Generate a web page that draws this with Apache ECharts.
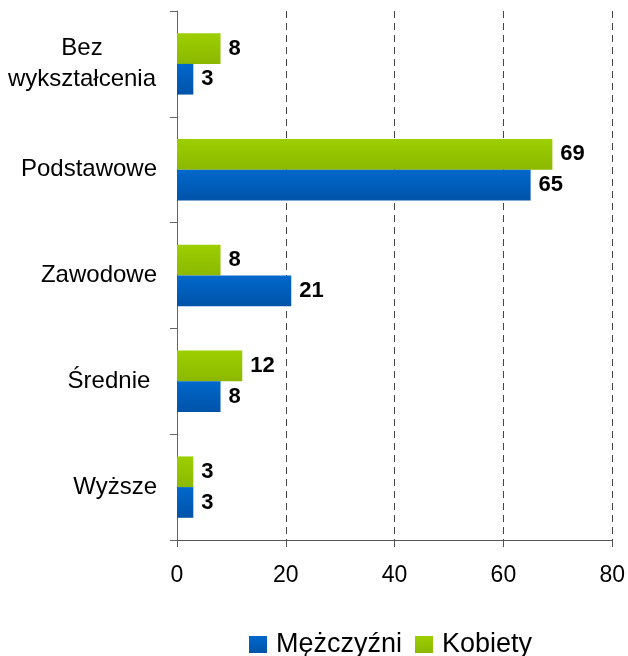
<!DOCTYPE html>
<html>
<head>
<meta charset="utf-8">
<script src="https://cdn.jsdelivr.net/npm/echarts@6/dist/echarts.min.js"></script>
<style>
  html, body { margin: 0; padding: 0; background: #fff; }
  #chart { width: 628px; height: 656px; }
</style>
</head>
<body>
<div id="chart"></div>
<script>
// categories from top to bottom
const categories = ['Bez\nwykształcenia', 'Podstawowe', 'Zawodowe', 'Średnie ', 'Wyższe'];
const men = [3, 65, 21, 8, 3];     // Mężczyźni
const women = [8, 69, 8, 12, 3];   // Kobiety
const xTicks = [0, 20, 40, 60, 80];

const chart = echarts.init(document.getElementById('chart'));

function grad(top, bottom) {
  return new echarts.graphic.LinearGradient(0, 0, 0, 1, [
    { offset: 0, color: top },
    { offset: 1, color: bottom }
  ]);
}

const font = 'Liberation Sans, Arial, sans-serif';

const valueLabel = {
  show: true,
  position: 'right',
  distance: 8,
  color: '#000',
  fontFamily: font,
  fontWeight: 'bold',
  fontSize: 22
};

let option = {
  backgroundColor: '#ffffff',
  animation: false,
  grid: { left: 177, right: 15, top: 11, bottom: 116, containLabel: false },
  legend: {
    data: ['Mężczyźni', 'Kobiety'],
    left: 244,
    top: 626,
    itemWidth: 18,
    itemHeight: 17,
    itemGap: 13,
    icon: 'rect',
    textStyle: { fontFamily: font, fontSize: 27, color: '#000', padding: [0, 0, 0, 4] }
  },
  xAxis: {
    type: 'value',
    min: xTicks[0],
    max: xTicks[xTicks.length - 1],
    interval: 20,
    axisLine: { show: true, lineStyle: { color: '#555', width: 1 } },
    axisTick: { show: true, length: 7, lineStyle: { color: '#555' } },
    axisLabel: { margin: 24, color: '#000', fontFamily: font, fontSize: 23 },
    splitLine: { show: true, lineStyle: { color: '#444', type: [7, 5], width: 1 } }
  },
  yAxis: {
    type: 'category',
    inverse: true,
    data: categories,
    axisLine: { show: true, lineStyle: { color: '#666', width: 1 } },
    axisTick: { show: true, length: 7, lineStyle: { color: '#666' } },
    axisLabel: {
      margin: 20,
      color: '#000',
      fontFamily: font,
      fontSize: 24,
      lineHeight: 31,
      align: 'right',
      formatter: function (v) {
        if (v.indexOf('\n') < 0) return v;
        return v.split('\n').map(function (s) { return '{c|' + s + '}'; }).join('\n');
      },
      rich: {
        c: { width: 150, align: 'center', fontFamily: font, fontSize: 24, lineHeight: 31, color: '#000' }
      }
    }
  },
  series: [
    {
      name: 'Kobiety',
      type: 'bar',
      data: women,
      barGap: '0%',
      barCategoryGap: '42%',
      itemStyle: { color: grad('#9ccf00', '#8cb800') },
      label: valueLabel
    },
    {
      name: 'Mężczyźni',
      type: 'bar',
      data: men,
      barGap: '0%',
      barCategoryGap: '42%',
      itemStyle: { color: grad('#0068cc', '#0053a8') },
      label: valueLabel
    }
  ]
};

chart.setOption(option);
</script>
</body>
</html>
